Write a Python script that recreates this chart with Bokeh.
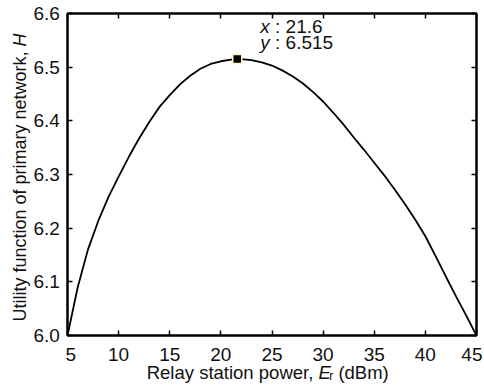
import numpy as np
from bokeh.plotting import figure
from bokeh.layouts import row, column
from bokeh.models import Label, LinearAxis, FixedTicker, Range1d, NumeralTickFormatter
from bokeh.embed import file_html
from bokeh.resources import INLINE

# ---- data ----
power_dbm = [5, 6, 7, 8, 9, 10, 11, 12, 13, 14, 15, 16, 17, 18, 19, 20, 21, 21.6,
             22, 23, 24, 25, 26, 27, 28, 29, 30, 31, 32, 33, 34, 35, 36, 37, 38,
             39, 40, 41, 42, 43, 44, 45]
utility_h = [6.000, 6.090, 6.160, 6.213, 6.258, 6.296, 6.333, 6.367, 6.398, 6.426,
             6.448, 6.468, 6.484, 6.497, 6.506, 6.511, 6.514, 6.515,
             6.515, 6.513, 6.509, 6.503, 6.494, 6.483, 6.470, 6.454, 6.436, 6.415,
             6.393, 6.369, 6.346, 6.322, 6.298, 6.272, 6.245, 6.216, 6.185, 6.148,
             6.110, 6.073, 6.037, 6.000]
x_ticks = [5, 10, 15, 20, 25, 30, 35, 40, 45]
y_ticks = [6.0, 6.1, 6.2, 6.3, 6.4, 6.5, 6.6]
peak_x = 21.6
peak_y = 6.515
x_title = ["Relay station power, ", "E", "r", "\u00a0(dBm)"]
y_title = ["Utility function of primary network, ", "H"]

FONT = "Liberation Sans"
TICK_FS = 19
TIP_FS = 19
XT_FS = 18.5
YT_FS = 18
TXT = "#111111"
BASE_FIX = 6  # label baseline correction (px)

# Arial / Liberation Sans advance widths (em)
AW = {' ': .278, '\u00a0': .278, 'U': .722, 't': .278, 'i': .222, 'l': .222, 'y': .5,
      'f': .278, 'u': .556, 'n': .556, 'c': .5, 'o': .556, 'p': .556, 'r': .333,
      'm': .833, 'a': .556, 'e': .556, 'w': .722, 'k': .5, ',': .278, 'H': .722,
      'R': .722, 's': .5, 'E': .667, '(': .333, ')': .333, 'd': .556, 'B': .667,
      'x': .5, ':': .278, '.': .278}
for d in "0123456789":
    AW[d] = .556


def tw(s, size):
    return sum(AW.get(c, .556) for c in s) * size


# ---- layout geometry (pixels, page coordinates) ----
FRAME_LEFT, FRAME_RIGHT, FRAME_TOP, FRAME_BOTTOM = 67, 476, 13, 335
TOTAL_W, TOTAL_H = 482, 386
YFIG_W = 65                       # y title + y tick labels
YLAB_LEFT = 33                    # left edge of the y tick labels
MAIN_W = TOTAL_W - YFIG_W
BL = FRAME_LEFT - YFIG_W
BR = TOTAL_W - FRAME_RIGHT
MAIN_H = FRAME_BOTTOM + 2
BB = MAIN_H - FRAME_BOTTOM
XFIG_H = TOTAL_H - MAIN_H
XFIG_TOP_BORDER = 23              # room for the x tick labels

x0, x1 = x_ticks[0], x_ticks[-1]
y0, y1 = y_ticks[0], y_ticks[-1]

p = figure(width=MAIN_W, height=MAIN_H, x_range=Range1d(x0, x1), y_range=Range1d(y0, y1),
           output_backend="svg", toolbar_location=None,
           min_border_left=BL, min_border_right=BR, min_border_top=FRAME_TOP,
           min_border_bottom=BB)
p.grid.visible = False
p.outline_line_color = "black"
p.outline_line_width = 2
p.background_fill_color = "white"
p.border_fill_color = "white"


def style_axis(ax, show_labels=True, ticks=True):
    ax.minor_tick_line_color = None
    if ticks:
        ax.major_tick_in = 5
        ax.major_tick_out = 0
        ax.axis_line_width = 2
        ax.axis_line_color = "black"
        ax.major_tick_line_width = 1.5
        ax.major_tick_line_color = "black"
    else:
        ax.major_tick_in = 0
        ax.major_tick_out = 0
        ax.axis_line_color = None
        ax.major_tick_line_color = None
    if show_labels:
        ax.major_label_text_font = FONT
        ax.major_label_text_font_size = f"{TICK_FS}px"
        ax.major_label_text_color = TXT
        ax.major_label_standoff = 0
    else:
        ax.major_label_text_font_size = "1px"
        ax.major_label_text_color = None
        ax.major_label_text_alpha = 0
        ax.major_label_standoff = 0


p.xaxis.ticker = FixedTicker(ticks=x_ticks)
p.yaxis.ticker = FixedTicker(ticks=y_ticks)
style_axis(p.xaxis[0], show_labels=False)
style_axis(p.yaxis[0], show_labels=False)

top_ax = LinearAxis(ticker=FixedTicker(ticks=x_ticks))
style_axis(top_ax, False)
p.add_layout(top_ax, "above")
right_ax = LinearAxis(ticker=FixedTicker(ticks=y_ticks))
style_axis(right_ax, False)
p.add_layout(right_ax, "right")

# curve and marker
p.line(power_dbm, utility_h, line_color="black", line_width=1.8)
p.scatter([peak_x], [peak_y], marker="square", size=9, fill_color="black",
          line_color="#fff3c4", line_width=1.5)


def lab(fig, x, y, text, xo, yo, size, style="normal", align="left", angle=0):
    fig.add_layout(Label(x=x, y=y, text=text, x_offset=xo, y_offset=yo,
                         text_font=FONT, text_font_size=f"{size}px",
                         text_font_style=style, text_color=TXT, text_align=align,
                         text_baseline="alphabetic", angle=angle))


# data tip
tip_dx = 23
l1, l2 = 27 + BASE_FIX, 10.5 + BASE_FIX
lab(p, peak_x, peak_y, "x", tip_dx, l1, TIP_FS, style="italic")
lab(p, peak_x, peak_y, f"\u00a0: {peak_x}", tip_dx + tw("x", TIP_FS), l1, TIP_FS)
lab(p, peak_x, peak_y, "y", tip_dx, l2, TIP_FS, style="italic")
lab(p, peak_x, peak_y, f"\u00a0: {peak_y}", tip_dx + tw("y", TIP_FS), l2, TIP_FS)


def blank_fig(w, h, xr, yr, bl=0, br=0, bt=0, bb=0):
    f = figure(width=w, height=h, x_range=xr, y_range=yr, output_backend="svg",
               toolbar_location=None, x_axis_location=None, y_axis_location=None,
               min_border_left=bl, min_border_right=br, min_border_top=bt,
               min_border_bottom=bb)
    f.grid.visible = False
    f.outline_line_color = None
    f.background_fill_color = "white"
    f.border_fill_color = "white"
    return f


# x tick labels + x axis title (shares the x scale with the main frame)
xf = blank_fig(MAIN_W, XFIG_H, p.x_range, Range1d(0, 1), BL, BR, XFIG_TOP_BORDER)
xlab_ax = LinearAxis(ticker=FixedTicker(ticks=x_ticks))
style_axis(xlab_ax, show_labels=True, ticks=False)
xf.add_layout(xlab_ax, "above")

xm = (x0 + x1) / 2
SUB = 12
p1, pE, pr, p3 = x_title
w1, wE, wr, w3 = tw(p1, XT_FS), tw(pE, XT_FS), tw(pr, SUB), tw(p3, XT_FS)
tot = w1 + wE + wr + w3
a = w1 - tot / 2 - 4
xb = -(377.5 - (MAIN_H + XFIG_TOP_BORDER)) + BASE_FIX
lab(xf, xm, 1, p1, a, xb, XT_FS, align="right")
lab(xf, xm, 1, pE, a, xb, XT_FS, style="italic")
lab(xf, xm, 1, pr, a + wE - 1.5, xb - 4, SUB)
lab(xf, xm, 1, p3, a + wE - 1.5 + wr, xb, XT_FS)

# y tick labels + rotated y axis title (shares the y scale with the main frame)
yf = blank_fig(YFIG_W, TOTAL_H, Range1d(0, 1), p.y_range, 0, YFIG_W - YLAB_LEFT,
               FRAME_TOP, TOTAL_H - FRAME_BOTTOM)
ylab_ax = LinearAxis(ticker=FixedTicker(ticks=y_ticks),
                     formatter=NumeralTickFormatter(format="0.0"))
style_axis(ylab_ax, show_labels=True, ticks=False)
yf.add_layout(ylab_ax, "right")

ym = (y0 + y1) / 2
q1, qH = y_title
wq1, wH = tw(q1, YT_FS), tw(qH, YT_FS)
b = (wq1 - wH) / 2 - 3
yx = 25 - BASE_FIX
lab(yf, 0, ym, q1, yx, b, YT_FS, align="right", angle=np.pi / 2)
lab(yf, 0, ym, qH, yx, b, YT_FS, style="italic", angle=np.pi / 2)

layout = row(yf, column(p, xf))
open("out.html", "w").write(file_html(layout, INLINE))
